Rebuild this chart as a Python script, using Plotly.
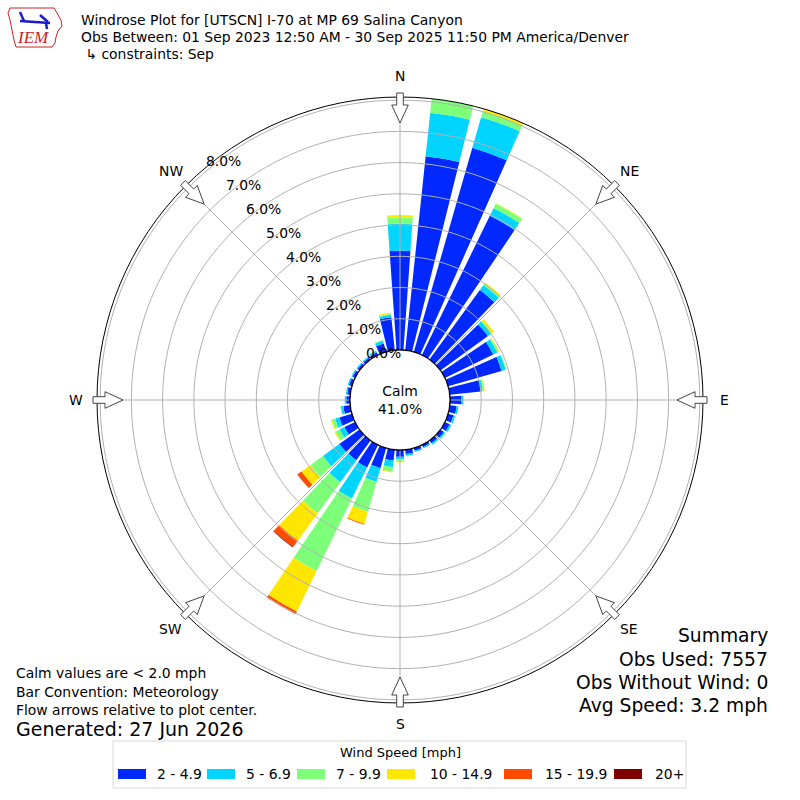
import math
import plotly.graph_objects as go

# ---------------- data (percent of observations) ----------------
directions = [0, 10, 20, 30, 40, 50, 60, 70, 80, 90, 100, 110,
              120, 130, 140, 150, 160, 170, 180, 190, 200, 210, 220, 230,
              240, 250, 260, 270, 280, 290, 300, 310, 320, 330, 340, 350]
speed_labels = ["2 - 4.9", "5 - 6.9", "7 - 9.9", "10 - 14.9", "15 - 19.9", "20+"]
pct_2_5 = [3.18, 6.25, 6.80, 4.96, 2.75, 1.88, 1.72, 1.78, 1.00, 0.37, 0.22, 0.18,
           0.17, 0.14, 0.11, 0.08, 0.09, 0.14, 0.22, 0.35, 0.67, 0.80, 0.78, 0.80,
           0.38, 0.42, 0.22, 0.12, 0.10, 0.10, 0.09, 0.08, 0.08, 0.10, 0.28, 1.06]
pct_5_7 = [0.86, 1.40, 1.02, 0.27, 0.20, 0.12, 0.15, 0.14, 0.06, 0.06, 0.06, 0.06,
           0.06, 0.05, 0.06, 0.04, 0.04, 0.06, 0.08, 0.21, 0.45, 1.11, 0.87, 0.65,
           0.17, 0.14, 0.08, 0.05, 0.04, 0.04, 0.04, 0.04, 0.04, 0.05, 0.09, 0.08]
pct_7_10 = [0.21, 0.65, 0.20, 0.16, 0.05, 0.05, 0.05, 0.03, 0.05, 0.00, 0.00, 0.00,
            0.00, 0.03, 0.00, 0.00, 0.00, 0.00, 0.05, 0.14, 1.00, 2.58, 1.23, 0.50,
            0.15, 0.11, 0.02, 0.00, 0.00, 0.00, 0.00, 0.00, 0.00, 0.00, 0.03, 0.03]
pct_10_15 = [0.07, 0.00, 0.08, 0.02, 0.05, 0.07, 0.02, 0.00, 0.02, 0.00, 0.00, 0.00,
             0.00, 0.00, 0.00, 0.00, 0.00, 0.00, 0.05, 0.03, 0.41, 1.44, 1.09, 0.35,
             0.03, 0.03, 0.00, 0.00, 0.00, 0.00, 0.00, 0.00, 0.00, 0.00, 0.00, 0.04]
pct_15_20 = [0.00, 0.00, 0.00, 0.00, 0.00, 0.00, 0.00, 0.00, 0.00, 0.00, 0.00, 0.00,
             0.00, 0.00, 0.00, 0.00, 0.00, 0.00, 0.00, 0.00, 0.02, 0.10, 0.25, 0.15,
             0.00, 0.00, 0.00, 0.00, 0.00, 0.00, 0.00, 0.00, 0.00, 0.00, 0.00, 0.00]
pct_20p = [0.00, 0.00, 0.00, 0.00, 0.00, 0.00, 0.00, 0.00, 0.00, 0.00, 0.00, 0.00,
           0.00, 0.00, 0.00, 0.00, 0.00, 0.00, 0.00, 0.00, 0.00, 0.00, 0.02, 0.01,
           0.00, 0.00, 0.00, 0.00, 0.00, 0.00, 0.00, 0.00, 0.00, 0.00, 0.00, 0.00]
radial_ticks = [0, 1, 2, 3, 4, 5, 6, 7, 8]
radial_ticklabels = ["0.0%", "1.0%", "2.0%", "3.0%", "4.0%", "5.0%", "6.0%", "7.0%", "8.0%"]
compass_deg = [0, 45, 90, 135, 180, 225, 270, 315]
compass_labels = ["N", "NE", "E", "SE", "S", "SW", "W", "NW"]
calm_pct = 41.0
obs_used = 7557
obs_without_wind = 0
avg_speed = 3.2

# ---------------- style / layout ----------------
series = [pct_2_5, pct_5_7, pct_7_10, pct_10_15, pct_15_20, pct_20p]
colors = ["#0028ff", "#00d4ff", "#7dff7a", "#ffe600", "#ff4a00", "#7f0000"]
FONT = "DejaVu Sans"
W = H = 800
CX, CY = 400, 400
R_OUT, R_HOLE = 303, 50
RMAX = 8.1
PX_PER_PCT = (R_OUT - R_HOLE) / RMAX
GRID = "#b0b0b0"
RLABEL_ANGLE = 320.2      # meteorological degrees
RLABEL_OFF = (15.8, -8.8)
LABEL_R_PX = 324          # compass label radius in pixels


def P(x, y):
    return x / W, 1 - y / H


fig = go.Figure()
for name, vals, col in zip(speed_labels, series, colors):
    fig.add_trace(go.Barpolar(r=vals, theta=directions, width=8, name=name,
                              marker=dict(color=col, line=dict(width=0)),
                              showlegend=False, hoverinfo="skip"))

# grid drawn above the bars (as in matplotlib)
ring_r, ring_t = [], []
for k in radial_ticks[1:]:
    for t in range(0, 361, 2):
        ring_r.append(k)
        ring_t.append(t)
    ring_r.append(None)
    ring_t.append(None)
fig.add_trace(go.Scatterpolar(r=ring_r, theta=ring_t, mode="lines",
                              line=dict(color=GRID, width=1), hoverinfo="skip",
                              showlegend=False, connectgaps=False))
sp_r, sp_t = [], []
for d in compass_deg:
    sp_r += [0, RMAX, None]
    sp_t += [d, d, None]
fig.add_trace(go.Scatterpolar(r=sp_r, theta=sp_t, mode="lines",
                              line=dict(color=GRID, width=1), hoverinfo="skip",
                              showlegend=False, connectgaps=False))
hole_t = list(range(0, 361, 2))
fig.add_trace(go.Scatterpolar(r=[0] * len(hole_t), theta=hole_t, mode="lines",
                              line=dict(color="black", width=1.3), hoverinfo="skip",
                              showlegend=False, cliponaxis=False))

shapes = []
# flow arrows
arrow_local = [(307, -3.3), (295, -3.3), (295, -8.3), (277, 0), (295, 8.3), (295, 3.3), (307, 3.3)]
for d in compass_deg:
    a = math.radians(d)
    pts = []
    for dist, w in arrow_local:
        x = CX + dist * math.sin(a) + w * math.cos(a)
        y = CY - dist * math.cos(a) + w * math.sin(a)
        pts.append(P(x, y))
    path = "M " + " L ".join(f"{px:.5f},{py:.5f}" for px, py in pts) + " Z"
    shapes.append(dict(type="path", path=path, xref="paper", yref="paper",
                       fillcolor="white", line=dict(color="#444444", width=1), layer="above"))

annotations = []


def text(s, x, y, size, xanchor="left", color="black", family=FONT):
    px, py = P(x, y)
    annotations.append(dict(text=s, x=px, y=py, xref="paper", yref="paper",
                            xanchor=xanchor, yanchor="middle", showarrow=False,
                            font=dict(family=family, size=size, color=color)))


# compass labels outside the frame
for d, lab in zip(compass_deg, compass_labels):
    a = math.radians(d)
    text(lab, CX + LABEL_R_PX * math.sin(a), CY - LABEL_R_PX * math.cos(a), 13.9, xanchor="center")

# radial labels, placed at the ring radius along a fixed bearing
ra = math.radians(RLABEL_ANGLE)
for k, lab in zip(radial_ticks, radial_ticklabels):
    rp = R_HOLE + k * PX_PER_PCT
    x = CX + rp * math.sin(ra) + RLABEL_OFF[0]
    y = CY - rp * math.cos(ra) + RLABEL_OFF[1]
    text(lab, x, y, 13.9, xanchor="center")

text("Windrose Plot for [UTSCN] I-70 at MP 69 Salina Canyon", 79, 20, 13.9)
text("Obs Between: 01 Sep 2023 12:50 AM - 30 Sep 2025 11:50 PM America/Denver", 79, 37, 13.9)
text(" ↳ constraints: Sep", 79, 54, 13.9)

annotations.append(dict(text=f"Calm<br>{calm_pct:.1f}%", x=0.5, y=0.5, xref="paper", yref="paper",
                        showarrow=False, font=dict(family=FONT, size=13.9, color="black")))

text("Calm values are < 2.0 mph", 14, 673, 13.9)
text("Bar Convention: Meteorology", 14, 692, 13.9)
text("Flow arrows relative to plot center.", 14, 710, 13.9)
text("Generated: 27 Jun 2026", 14, 729, 19)

text("Summary", 770, 635, 18.7, xanchor="right")
text(f"Obs Used: {obs_used}", 770, 659, 18.7, xanchor="right")
text(f"Obs Without Wind: {obs_without_wind}", 770, 682, 18.7, xanchor="right")
text(f"Avg Speed: {avg_speed} mph", 770, 705, 18.7, xanchor="right")

# legend box
x0, y0 = P(113, 741)
x1, y1 = P(686, 788)
shapes.append(dict(type="rect", xref="paper", yref="paper", x0=x0, y0=y0, x1=x1, y1=y1,
                   fillcolor="white", line=dict(color="#d8d8d8", width=1), layer="above"))
text("Wind Speed [mph]", 400, 752, 13, xanchor="center")
patch_x = [118, 207, 297, 387, 504, 614]
label_x = [155, 244, 334, 428, 543, 653]
for name, col, pxx, lx in zip(speed_labels, colors, patch_x, label_x):
    a0, b0 = P(pxx, 769)
    a1, b1 = P(pxx + 28, 779)
    shapes.append(dict(type="rect", xref="paper", yref="paper", x0=a0, y0=b0, x1=a1, y1=b1,
                       fillcolor=col, line=dict(width=0), layer="above"))
    text(name, lx, 774, 13.9)

# IEM logo (simplified)
iowa = [(10, 8), (54, 8), (57, 13), (61, 20), (62, 26), (58, 31), (56, 37), (55, 43),
        (52, 47), (16, 47), (14, 40), (12, 30), (10, 20), (8, 13)]
path = "M " + " L ".join(f"{P(x, y)[0]:.5f},{P(x, y)[1]:.5f}" for x, y in iowa) + " Z"
shapes.append(dict(type="path", path=path, xref="paper", yref="paper",
                   fillcolor="white", line=dict(color="#cc2222", width=1), layer="above"))
for (xa, ya, xb, yb) in [(20, 21, 50, 23), (20, 12, 24, 21), (40, 15, 48, 22), (46, 23, 47, 29)]:
    a0, b0 = P(xa, ya)
    a1, b1 = P(xb, yb)
    shapes.append(dict(type="line", xref="paper", yref="paper", x0=a0, y0=b0, x1=a1, y1=b1,
                       line=dict(color="#1a1acc", width=2.5), layer="above"))
text("<i>IEM</i>", 33, 38, 17, xanchor="center", color="#cc2222", family="Liberation Serif")

fig.update_layout(
    width=W, height=H,
    margin=dict(l=0, r=0, t=0, b=0),
    paper_bgcolor="white",
    showlegend=False,
    polar=dict(
        domain=dict(x=[(CX - R_OUT) / W, (CX + R_OUT) / W],
                    y=[1 - (CY + R_OUT) / H, 1 - (CY - R_OUT) / H]),
        hole=R_HOLE / R_OUT,
        bgcolor="white",
        barmode="stack",
        radialaxis=dict(range=[0, RMAX], tickvals=radial_ticks, showticklabels=False,
                        showgrid=False, showline=False, ticks=""),
        angularaxis=dict(rotation=90, direction="clockwise", tickvals=compass_deg,
                         showticklabels=False, showgrid=False, showline=True,
                         linecolor="black", linewidth=1, ticks=""),
    ),
    shapes=shapes,
    annotations=annotations,
)

fig.write_html("out.html", config={"displayModeBar": False},
               post_script="document.body.style.margin='0px';")
